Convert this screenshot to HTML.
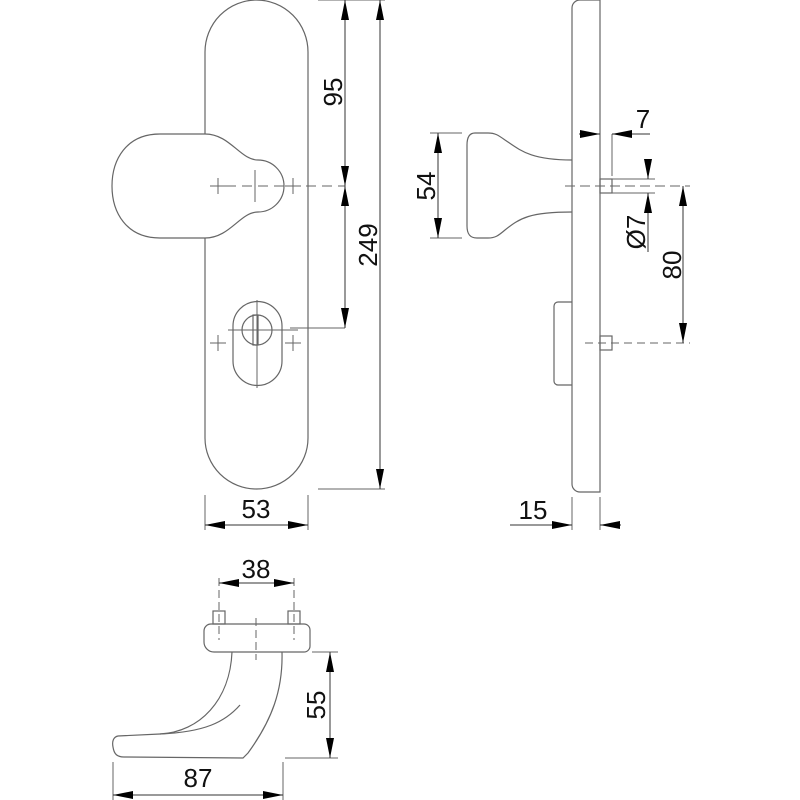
<!DOCTYPE html>
<html><head><meta charset="utf-8"><style>html,body{margin:0;padding:0;background:#fff}svg{display:block}text{font-family:"Liberation Sans",sans-serif;font-size:26px;fill:#111}</style></head><body>
<svg width="800" height="800" viewBox="0 0 800 800" xmlns="http://www.w3.org/2000/svg">
<defs>
<marker id="a" viewBox="0 0 20 8" refX="20" refY="4" markerWidth="20" markerHeight="8" markerUnits="userSpaceOnUse" orient="auto-start-reverse"><path d="M0,0L20,4L0,8z" fill="#000"/></marker>
</defs>
<g fill="none" stroke="#666" stroke-width="1.2">
<path d="M205,134 L205,52 A51.5,52 0 0 1 308,52 L308,438 A51.5,51 0 0 1 205,438 L205,238"/>
<path d="M205,134 L160,134 C126,134 112,160 112,186 C112,212 126,238 160,238 L205,238 C230,238 240,212 258,212 A26,26 0 0 0 258,160 C240,160 230,134 205,134 Z"/>
<path d="M233,326 A24.5,24.5 0 0 1 282,326 L282,361 A24.5,24.5 0 0 1 233,361 Z"/>
<circle cx="257" cy="330" r="15"/>
<rect x="253" y="315" width="5" height="30"/>
</g>
<g stroke="#666" stroke-width="1" fill="none">
<path d="M210,186H345" stroke-dasharray="10,6"/>
<path d="M218,178v16M210,186h16M255,170v32M293,178v16M285,186h16"/>
<path d="M257,300v88M228,330h70"/>
<path d="M218,335v16M210,343h16M293,335v16M285,343h16"/>
<path d="M318,0H385M318,489H385M290,328H345"/>
<path d="M205,495V530M308,495V530"/>
</g>
<g stroke="#333" stroke-width="1" fill="none">
<line x1="345" y1="0" x2="345" y2="186" marker-start="url(#a)" marker-end="url(#a)"/>
<line x1="345" y1="186" x2="345" y2="328" marker-start="url(#a)" marker-end="url(#a)"/>
<line x1="380" y1="0" x2="380" y2="489" marker-start="url(#a)" marker-end="url(#a)"/>
<line x1="205" y1="525" x2="308" y2="525" marker-start="url(#a)" marker-end="url(#a)"/>
</g>
<text transform="translate(342,92) rotate(-90)" text-anchor="middle">95</text>
<text transform="translate(377,245) rotate(-90)" text-anchor="middle">249</text>
<text x="256" y="518" text-anchor="middle">53</text>
<g fill="none" stroke="#666" stroke-width="1.2">
<path d="M600,0V492H580A8,8 0 0 1 572,484V8A8,8 0 0 1 580,0Z"/>
<path d="M572,160C530,160 520,150 505,140C498,135 495,133 488,133H475C469,133 467,138 467,145V226C467,234 470,238 477,238H488C495,238 498,236 505,230C520,218 530,212 572,212"/>
<path d="M572,302H558A4,4 0 0 0 554,306V381A4,4 0 0 0 558,385H572"/>
<rect x="600" y="179" width="12" height="14"/>
<rect x="600" y="336" width="12" height="14"/>
</g>
<g stroke="#666" stroke-width="1" fill="none">
<path d="M565,186H690" stroke-dasharray="10,5"/>
<path d="M585,343H690" stroke-dasharray="8,5"/>
<path d="M430,133H462M430,238H462"/>
<path d="M612,134V176M612,179H655M612,193H655"/>
<path d="M572,497V530M600,497V530"/>
</g>
<g stroke="#333" stroke-width="1" fill="none">
<line x1="438" y1="133" x2="438" y2="238" marker-start="url(#a)" marker-end="url(#a)"/>
<line x1="579" y1="134" x2="600" y2="134" marker-end="url(#a)"/>
<line x1="650" y1="134" x2="612" y2="134" marker-end="url(#a)"/>
<line x1="648" y1="159" x2="648" y2="179" marker-end="url(#a)"/>
<line x1="648" y1="252" x2="648" y2="193" marker-end="url(#a)"/>
<line x1="683" y1="186" x2="683" y2="343" marker-start="url(#a)" marker-end="url(#a)"/>
<line x1="510" y1="525" x2="572" y2="525" marker-end="url(#a)"/>
<line x1="621" y1="525" x2="600" y2="525" marker-end="url(#a)"/>
</g>
<text transform="translate(435,186) rotate(-90)" text-anchor="middle">54</text>
<text x="643" y="128" text-anchor="middle">7</text>
<text transform="translate(645,232) rotate(-90)" text-anchor="middle">Ø7</text>
<text transform="translate(681,265) rotate(-90)" text-anchor="middle">80</text>
<text x="533" y="519" text-anchor="middle">15</text>
<g fill="none" stroke="#666" stroke-width="1.2">
<path d="M211,624H304A6,6 0 0 1 310,630V646A6,6 0 0 1 304,652H214A10,10 0 0 1 204,642V631A7,7 0 0 1 211,624Z"/>
<rect x="213" y="611" width="12" height="13"/>
<rect x="288" y="611" width="12" height="13"/>
<path d="M232,652C230,700 200,732 160,734L118,736C113,737 112,742 113,747C114,754 117,757 124,757L243,758L248,753C272,720 283,690 282,652"/>
<path d="M240,705C225,722 205,732 160,734"/>
</g>
<g stroke="#666" stroke-width="1" fill="none">
<path d="M219,578V640M294,578V640M256,618V660" stroke-dasharray="8,4"/>
<path d="M312,652H338M285,758H338"/>
<path d="M113,762V800M283,762V800"/>
</g>
<g stroke="#333" stroke-width="1" fill="none">
<line x1="219" y1="583" x2="294" y2="583" marker-start="url(#a)" marker-end="url(#a)"/>
<line x1="330" y1="652" x2="330" y2="758" marker-start="url(#a)" marker-end="url(#a)"/>
<line x1="113" y1="795" x2="283" y2="795" marker-start="url(#a)" marker-end="url(#a)"/>
</g>
<text x="256" y="578" text-anchor="middle">38</text>
<text transform="translate(325,705) rotate(-90)" text-anchor="middle">55</text>
<text x="198" y="787" text-anchor="middle">87</text>
</svg>
</body></html>
